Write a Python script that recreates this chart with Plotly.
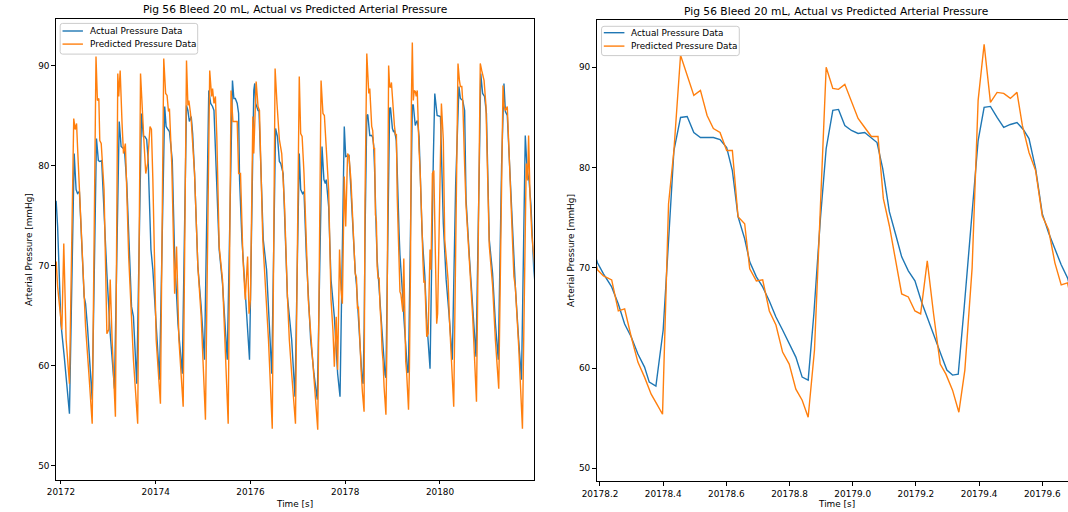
import plotly.graph_objects as go

# ---------------- data ----------------
time_actual = [
    20171.86, 20171.90, 20171.93, 20172.00, 20172.07, 20172.18,
    20172.28, 20172.32, 20172.35, 20172.39, 20172.49, 20172.52, 20172.56, 20172.66,
    20172.75, 20172.79, 20172.82, 20172.86, 20172.97, 20173.04, 20173.13,
    20173.23, 20173.27, 20173.31, 20173.34, 20173.39, 20173.49, 20173.53, 20173.60,
    20173.70, 20173.74, 20173.77, 20173.81, 20173.84, 20173.90, 20173.94, 20174.01, 20174.08,
    20174.19, 20174.22, 20174.26, 20174.29, 20174.35, 20174.38, 20174.40, 20174.47, 20174.56,
    20174.65, 20174.68, 20174.71, 20174.75, 20174.78, 20174.82, 20174.89, 20174.96, 20175.03,
    20175.12, 20175.16, 20175.20, 20175.23, 20175.34, 20175.41, 20175.51,
    20175.62, 20175.65, 20175.68, 20175.72, 20175.75, 20175.77, 20175.82, 20175.89, 20175.98,
    20176.07, 20176.09, 20176.11, 20176.16, 20176.18, 20176.27, 20176.34, 20176.45,
    20176.53, 20176.57, 20176.61, 20176.64, 20176.69, 20176.78, 20176.87, 20176.94,
    20177.03, 20177.06, 20177.10, 20177.13, 20177.18, 20177.27, 20177.34, 20177.41,
    20177.51, 20177.55, 20177.58, 20177.60, 20177.65, 20177.70, 20177.77, 20177.84, 20177.89,
    20177.92, 20177.98, 20178.01, 20178.05, 20178.08, 20178.12,
    20178.192, 20178.211, 20178.237, 20178.258, 20178.278, 20178.299, 20178.320, 20178.341, 20178.356, 20178.377,
    20178.400, 20178.417, 20178.434, 20178.455, 20178.476, 20178.497, 20178.518, 20178.539, 20178.559, 20178.580, 20178.601, 20178.619, 20178.637, 20178.658,
    20178.674, 20178.695, 20178.715, 20178.736, 20178.757, 20178.778, 20178.799, 20178.820, 20178.840, 20178.859,
    20178.877, 20178.898, 20178.916, 20178.937, 20178.955, 20178.975, 20178.996, 20179.017, 20179.038, 20179.059, 20179.077, 20179.095, 20179.116, 20179.137,
    20179.155, 20179.176, 20179.197, 20179.218, 20179.239, 20179.259, 20179.280, 20179.298, 20179.316, 20179.334,
    20179.353, 20179.373, 20179.397, 20179.416, 20179.436, 20179.457, 20179.478, 20179.499, 20179.520, 20179.540, 20179.558, 20179.579, 20179.600, 20179.620,
    20179.640, 20179.660, 20179.680,
    20179.72, 20179.75, 20179.79,
    20179.86, 20179.89, 20179.94, 20179.98, 20180.01, 20180.07, 20180.13, 20180.19, 20180.26,
    20180.33, 20180.40, 20180.43, 20180.48, 20180.52, 20180.55, 20180.62, 20180.69, 20180.76,
    20180.83, 20180.86, 20180.90, 20180.94, 20180.98, 20181.04, 20181.11, 20181.17, 20181.23,
    20181.30, 20181.35, 20181.38, 20181.42, 20181.49, 20181.56, 20181.59, 20181.66, 20181.72,
    20181.80, 20181.84, 20181.88, 20181.92, 20181.98, 20182.00,
]
actual_pressure = [
    76.6, 76.4, 73.9, 64.2, 60.9, 55.2,
    81.2, 77.6, 77.2, 77.4, 66.9, 66.2, 63.9, 56.6,
    82.7, 80.5, 80.4, 80.5, 69.2, 63.2, 57.7,
    84.4, 81.9, 81.7, 81.6, 78.2, 65.9, 64.9, 58.2,
    85.2, 82.9, 82.9, 82.6, 80.6, 71.6, 69.6, 64.2, 58.6,
    85.9, 83.9, 83.6, 83.4, 80.5, 74.0, 70.9, 64.2, 59.2,
    86.0, 85.5, 84.4, 84.9, 83.2, 79.2, 69.9, 65.9, 60.6,
    87.5, 86.2, 85.9, 85.5, 71.6, 68.2, 60.6,
    88.5, 86.7, 86.7, 86.2, 85.2, 78.6, 72.6, 66.9, 60.6,
    87.5, 88.2, 86.2, 85.5, 85.5, 72.6, 69.6, 59.2,
    83.7, 82.9, 80.4, 80.2, 79.2, 66.9, 62.6, 56.9,
    81.2, 77.6, 77.2, 77.4, 70.9, 62.6, 59.2, 56.6,
    81.9, 78.6, 78.2, 78.6, 75.9, 68.6, 64.9, 59.2, 56.9,
    67.6, 83.9, 80.9, 81.0, 81.0, 77.6,
    70.5, 69.4, 68.1, 66.4, 64.4, 63.1, 61.4, 60.1, 58.6, 58.2,
    63.8, 72.7, 81.7, 85.0, 85.1, 83.5, 83.0, 83.0, 83.0, 82.8, 82.0, 79.7, 75.1, 72.9,
    70.6, 69.1, 68.1, 66.7, 65.1, 63.8, 62.4, 61.1, 59.1, 58.8,
    65.4, 75.0, 81.9, 85.7, 85.8, 84.2, 83.7, 83.4, 83.5, 83.0, 82.5, 79.9, 75.6, 73.2,
    71.1, 69.7, 68.7, 66.6, 64.7, 63.1, 61.3, 59.8, 59.3, 59.4,
    66.1, 74.0, 82.7, 86.0, 86.1, 85.0, 84.0, 84.3, 84.5, 83.8, 82.9, 79.9, 75.4, 73.5,
    71.8, 70.3, 69.0,
    64.5, 62.0, 59.7,
    80.9, 87.2, 85.0, 84.9, 84.9, 74.2, 68.6, 65.2, 60.6,
    78.0, 87.9, 86.7, 86.5, 85.5, 76.6, 70.9, 65.9, 60.9,
    80.0, 89.2, 87.2, 86.9, 85.2, 72.6, 69.2, 64.2, 60.6,
    80.0, 88.2, 85.4, 85.0, 77.6, 70.5, 67.9, 62.6, 58.6,
    83.0, 79.5, 78.5, 76.0, 69.5, 68.5,
]

time_predicted = [
    20171.86, 20171.90, 20171.93, 20171.97, 20172.02, 20172.06, 20172.11, 20172.18,
    20172.27, 20172.30, 20172.33, 20172.35, 20172.39, 20172.48, 20172.52, 20172.59, 20172.66,
    20172.74, 20172.77, 20172.80, 20172.82, 20172.85, 20172.88, 20172.91, 20172.97, 20173.01, 20173.04, 20173.08, 20173.15,
    20173.20, 20173.22, 20173.25, 20173.29, 20173.32, 20173.36, 20173.43, 20173.53, 20173.62,
    20173.68, 20173.72, 20173.75, 20173.79, 20173.83, 20173.88, 20173.91, 20173.94, 20174.01, 20174.10,
    20174.17, 20174.21, 20174.24, 20174.27, 20174.29, 20174.34, 20174.40, 20174.44, 20174.49, 20174.58,
    20174.65, 20174.68, 20174.70, 20174.73, 20174.75, 20174.82, 20174.89, 20174.96, 20175.05,
    20175.14, 20175.18, 20175.20, 20175.23, 20175.26, 20175.29, 20175.34, 20175.41, 20175.53,
    20175.59, 20175.63, 20175.68, 20175.72, 20175.75, 20175.79, 20175.84, 20175.89, 20175.94, 20175.97, 20176.00,
    20176.05, 20176.07, 20176.09, 20176.12, 20176.16, 20176.19, 20176.26, 20176.38, 20176.46,
    20176.52, 20176.56, 20176.61, 20176.66, 20176.72, 20176.78, 20176.82, 20176.87, 20176.95,
    20177.03, 20177.06, 20177.09, 20177.13, 20177.22, 20177.29, 20177.36, 20177.42,
    20177.49, 20177.53, 20177.56, 20177.60, 20177.65, 20177.70, 20177.74, 20177.77, 20177.81, 20177.84,
    20177.88, 20177.91, 20177.94, 20177.98, 20178.01, 20178.05, 20178.08, 20178.12,
    20178.192, 20178.211, 20178.237, 20178.258, 20178.278, 20178.299, 20178.320, 20178.341, 20178.362, 20178.380, 20178.398,
    20178.417, 20178.434, 20178.455, 20178.476, 20178.497, 20178.518, 20178.539, 20178.559, 20178.580, 20178.601, 20178.619, 20178.637, 20178.658,
    20178.674, 20178.695, 20178.715, 20178.736, 20178.757, 20178.778, 20178.799, 20178.820, 20178.840, 20178.859,
    20178.879, 20178.898, 20178.916, 20178.937, 20178.955, 20178.975, 20178.996, 20179.017, 20179.038, 20179.059, 20179.080, 20179.097, 20179.116,
    20179.137, 20179.155, 20179.176, 20179.197, 20179.215, 20179.236, 20179.256, 20179.277, 20179.295, 20179.316, 20179.336,
    20179.355, 20179.378, 20179.397, 20179.416, 20179.436, 20179.457, 20179.478, 20179.499, 20179.520, 20179.537, 20179.558, 20179.579, 20179.600, 20179.620,
    20179.640, 20179.660, 20179.680,
    20179.72, 20179.75, 20179.79, 20179.81, 20179.84, 20179.87, 20179.93, 20179.95, 20180.03, 20180.07, 20180.10, 20180.17, 20180.20, 20180.29,
    20180.33, 20180.38, 20180.41, 20180.43, 20180.46, 20180.48, 20180.52, 20180.55, 20180.62, 20180.69, 20180.77,
    20180.85, 20180.88, 20180.93, 20180.97, 20181.04, 20181.11, 20181.17, 20181.24,
    20181.33, 20181.35, 20181.38, 20181.42, 20181.49, 20181.56, 20181.59, 20181.66, 20181.74,
    20181.82, 20181.85, 20181.87, 20181.90, 20181.94, 20181.98, 20182.00,
]
predicted_pressure = [
    69.0, 70.4, 67.9, 66.0, 63.6, 72.2, 62.6, 58.2,
    84.7, 83.6, 84.2, 81.9, 77.5, 67.2, 63.9, 59.2, 54.2,
    90.9, 86.5, 86.7, 82.5, 82.2, 79.9, 77.6, 63.2, 63.6, 68.6, 62.6, 54.9,
    89.2, 86.9, 89.5, 84.2, 81.2, 82.2, 70.9, 60.6, 54.2,
    89.2, 84.9, 82.6, 79.2, 80.2, 83.9, 83.6, 78.6, 62.6, 56.2,
    90.7, 87.2, 87.0, 85.4, 85.7, 80.0, 67.2, 71.9, 62.6, 55.9,
    90.5, 86.0, 86.5, 85.4, 84.5, 79.2, 69.9, 64.9, 54.6,
    89.5, 86.9, 87.7, 86.2, 86.9, 82.9, 71.9, 68.6, 54.2,
    87.5, 84.4, 84.4, 84.4, 79.2, 79.2, 70.9, 66.6, 70.9, 65.2, 66.6,
    84.9, 81.2, 84.2, 88.4, 85.9, 85.5, 72.6, 62.6, 53.7,
    89.7, 86.2, 82.6, 81.2, 75.9, 66.9, 62.6, 59.2, 54.2,
    88.9, 83.2, 82.9, 79.2, 66.6, 61.9, 57.6, 53.6,
    88.5, 85.2, 85.0, 81.9, 77.6, 66.6, 63.6, 59.9, 64.9, 59.6,
    71.6, 67.6, 66.2, 78.9, 73.9, 81.2, 80.9, 78.6,
    69.8, 69.2, 68.8, 65.7, 65.9, 63.1, 60.6, 59.1, 57.4, 56.4, 55.4,
    76.4, 81.7, 91.2, 89.2, 87.2, 87.7, 85.2, 83.9, 83.5, 81.7, 81.7, 75.1, 74.4,
    69.9, 68.7, 68.8, 65.7, 64.3, 61.6, 60.4, 57.9, 56.8, 55.1,
    61.8, 76.0, 90.0, 87.9, 87.8, 88.3, 86.5, 84.9, 84.0, 83.1, 83.1, 76.9, 74.2,
    70.6, 67.4, 67.1, 65.7, 65.4, 70.7, 65.4, 60.4, 59.4, 57.8, 55.6,
    59.8, 70.0, 86.7, 92.3, 86.5, 87.5, 87.4, 86.9, 87.5, 84.2, 81.5, 79.7, 75.2, 73.8,
    70.5, 68.3, 68.5,
    62.9, 63.2, 71.6, 69.6, 79.2, 79.5, 64.2, 65.2, 86.2, 82.6, 72.6, 68.6, 64.6, 55.9,
    72.0, 90.2, 88.5, 87.9, 87.9, 86.5, 80.0, 76.0, 70.5, 64.9, 56.4,
    90.2, 89.5, 88.5, 86.0, 72.0, 68.0, 62.5, 57.7,
    88.0, 86.0, 85.5, 85.9, 78.0, 68.9, 67.9, 62.0, 53.7,
    80.2, 78.5, 83.0, 77.0, 73.0, 71.0, 70.0,
]

left_xticks = [20172, 20174, 20176, 20178, 20180]
right_xticks = [20178.2, 20178.4, 20178.6, 20178.8, 20179.0, 20179.2, 20179.4, 20179.6]
yticks = [50, 60, 70, 80, 90]

title_text = "Pig 56 Bleed 20 mL, Actual vs Predicted Arterial Pressure"
x_label = "Time [s]"
y_label = "Arterial Pressure [mmHg]"
series_names = ["Actual Pressure Data", "Predicted Pressure Data"]

assert len(time_actual) == len(actual_pressure)
assert len(time_predicted) == len(predicted_pressure)

# ---------------- figure ----------------
W, H = 1068, 512
BLUE, ORANGE = "#1f77b4", "#ff7f0e"
FONT = "DejaVu Sans"

fig = go.Figure()
for xa, ya in [("x", "y"), ("x2", "y2")]:
    fig.add_trace(go.Scatter(x=time_actual, y=actual_pressure, mode="lines",
                             line=dict(color=BLUE, width=1.4), name=series_names[0],
                             xaxis=xa, yaxis=ya, showlegend=False))
    fig.add_trace(go.Scatter(x=time_predicted, y=predicted_pressure, mode="lines",
                             line=dict(color=ORANGE, width=1.4), name=series_names[1],
                             xaxis=xa, yaxis=ya, showlegend=False))

axis_common = dict(showgrid=False, zeroline=False, showline=True, linecolor="black",
                   linewidth=1, ticks="outside", ticklen=3.5, tickwidth=1,
                   tickcolor="black", tickfont=dict(family=FONT, size=8.9, color="black"))

left_px = (41.3, 526.2)
right_px = (589.8, 1068.0)

fig.update_layout(
    width=W, height=H,
    margin=dict(l=0, r=0, t=0, b=0),
    paper_bgcolor="white", plot_bgcolor="white",
    font=dict(family=FONT, size=8.9, color="black"),
    showlegend=False,
    xaxis=dict(domain=[left_px[0] / W, left_px[1] / W], range=[20171.89, 20181.98],
               tickvals=left_xticks, tickformat="d", anchor="y", mirror=True, **axis_common),
    yaxis=dict(domain=[1 - 479.6 / H, 1 - 18.9 / H], range=[48.62, 94.65],
               tickvals=yticks, anchor="x", mirror=True, **axis_common),
    xaxis2=dict(domain=[right_px[0] / W, 1.0], range=[20178.189, 20179.6815],
                tickvals=right_xticks, tickformat=".1f", anchor="y2", mirror=True, **axis_common),
    yaxis2=dict(domain=[1 - 481.4 / H, 1 - 20.2 / H], range=[48.7, 94.7],
                tickvals=yticks, anchor="x2", mirror=False, **axis_common),
)

# --- matplotlib-style legends (box, line samples, labels), positioned in pixels ---
def px(x):
    return x / W

def py(y):
    return 1 - y / H

def rounded_box(x0, y0, x1, y1, r=2.5):
    return (f"M {px(x0 + r)},{py(y0)} L {px(x1 - r)},{py(y0)} "
            f"Q {px(x1)},{py(y0)} {px(x1)},{py(y0 + r)} L {px(x1)},{py(y1 - r)} "
            f"Q {px(x1)},{py(y1)} {px(x1 - r)},{py(y1)} L {px(x0 + r)},{py(y1)} "
            f"Q {px(x0)},{py(y1)} {px(x0)},{py(y1 - r)} L {px(x0)},{py(y0 + r)} "
            f"Q {px(x0)},{py(y0)} {px(x0 + r)},{py(y0)} Z")

legend_boxes = [
    dict(box=(45.8, 23.4, 185.3, 54.1), line_x=(48.2, 68.9), rows=(31.0, 44.1), text_x=74.0),
    dict(box=(594.9, 26.3, 734.6, 55.6), line_x=(597.2, 618.1), rows=(32.7, 46.1), text_x=623.2),
]
for lb in legend_boxes:
    x0, y0, x1, y1 = lb["box"]
    fig.add_shape(type="path", path=rounded_box(x0, y0, x1, y1), xref="paper", yref="paper",
                  line=dict(color="rgba(204,204,204,1)", width=1),
                  fillcolor="rgba(255,255,255,0.8)", layer="above")
    for name, color, yrow in zip(series_names, [BLUE, ORANGE], lb["rows"]):
        fig.add_shape(type="line", xref="paper", yref="paper",
                      x0=px(lb["line_x"][0]), x1=px(lb["line_x"][1]), y0=py(yrow), y1=py(yrow),
                      line=dict(color=color, width=1.4), layer="above")
        fig.add_annotation(text=name, x=px(lb["text_x"]), y=py(yrow), xref="paper", yref="paper",
                           xanchor="left", yanchor="middle", showarrow=False,
                           font=dict(family=FONT, size=8.9, color="black"))

annos = [
    dict(text=title_text, x=283.8, y=9.6, size=10.7, angle=0),
    dict(text=title_text, x=832.3, y=11.8, size=10.7, angle=0),
    dict(text=x_label, x=283.8, y=503.7, size=8.9, angle=0),
    dict(text=x_label, x=833.4, y=504.0, size=8.9, angle=0),
    dict(text=y_label, x=14.0, y=249.2, size=8.9, angle=-90),
    dict(text=y_label, x=564.0, y=250.8, size=8.9, angle=-90),
]
for a in annos:
    fig.add_annotation(text=a["text"], x=px(a["x"]), y=py(a["y"]), xref="paper", yref="paper",
                       xanchor="center", yanchor="middle", showarrow=False,
                       textangle=a["angle"],
                       font=dict(family=FONT, size=a["size"], color="black"))

fig.write_html("out.html")
